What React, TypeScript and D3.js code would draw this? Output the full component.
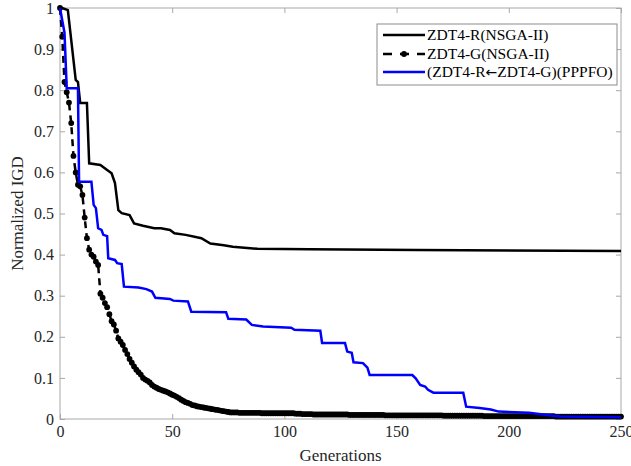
import { useEffect, useRef } from "react";
import * as d3 from "d3";

// ZDT4-R (NSGA-II): [generation, normalized IGD] break points
const solidR: [number, number][] = [
  [0, 1], [1, 1], [3.5, 0.995], [7, 0.825], [8, 0.82], [9, 0.769], [12, 0.769],
  [13, 0.622], [18, 0.618], [21, 0.606], [23, 0.598], [24.5, 0.574], [26, 0.508],
  [27.5, 0.501], [31, 0.496], [33, 0.476], [37, 0.47], [42, 0.464], [45, 0.464],
  [49, 0.46], [51, 0.452], [56, 0.448], [61, 0.442], [63, 0.44], [67, 0.427],
  [73, 0.423], [77, 0.419], [88, 0.414], [111, 0.413], [159, 0.411], [250, 0.409],
];

// ZDT4-G (NSGA-II): one value per generation 0..250
const dottedG: number[] = [
  1.000, 0.930, 0.820, 0.795, 0.770, 0.720, 0.640, 0.600, 0.570, 0.566,
  0.545, 0.490, 0.440, 0.412, 0.400, 0.395, 0.383, 0.375, 0.305, 0.295,
  0.282, 0.272, 0.255, 0.238, 0.230, 0.215, 0.196, 0.188, 0.180, 0.168,
  0.158, 0.146, 0.137, 0.128, 0.120, 0.114, 0.108, 0.100, 0.096, 0.093,
  0.089, 0.083, 0.079, 0.076, 0.073, 0.071, 0.069, 0.067, 0.065, 0.062,
  0.059, 0.057, 0.054, 0.051, 0.047, 0.044, 0.041, 0.039, 0.037, 0.034,
  0.033, 0.031, 0.030, 0.029, 0.028, 0.027, 0.026, 0.025, 0.024, 0.023,
  0.022, 0.021, 0.020, 0.019, 0.018, 0.017, 0.016, 0.016, 0.016, 0.016,
  0.015, 0.015, 0.015, 0.015, 0.015, 0.015, 0.015, 0.015, 0.015, 0.015,
  0.014, 0.014, 0.014, 0.014, 0.014, 0.014, 0.014, 0.014, 0.014, 0.014,
  0.014, 0.014, 0.014, 0.014, 0.014, 0.013, 0.013, 0.013, 0.012, 0.012,
  0.012, 0.012, 0.012, 0.011, 0.011, 0.011, 0.011, 0.011, 0.011, 0.011,
  0.011, 0.011, 0.011, 0.011, 0.011, 0.011, 0.011, 0.011, 0.011, 0.010,
  0.010, 0.010, 0.010, 0.010, 0.010, 0.010, 0.010, 0.010, 0.010, 0.010,
  0.010, 0.010, 0.010, 0.010, 0.010, 0.009, 0.009, 0.009, 0.009, 0.009,
  0.009, 0.009, 0.009, 0.009, 0.009, 0.009, 0.009, 0.009, 0.009, 0.009,
  0.009, 0.009, 0.009, 0.009, 0.009, 0.009, 0.009, 0.009, 0.009, 0.009,
  0.009, 0.008, 0.008, 0.008, 0.008, 0.008, 0.008, 0.008, 0.008, 0.008,
  0.008, 0.008, 0.008, 0.008, 0.008, 0.008, 0.008, 0.008, 0.008, 0.007,
  0.007, 0.007, 0.007, 0.007, 0.007, 0.007, 0.007, 0.007, 0.007, 0.007,
  0.007, 0.007, 0.007, 0.007, 0.007, 0.007, 0.007, 0.007, 0.007, 0.007,
  0.007, 0.007, 0.007, 0.007, 0.007, 0.007, 0.007, 0.007, 0.007, 0.007,
  0.007, 0.006, 0.006, 0.006, 0.006, 0.006, 0.006, 0.006, 0.006, 0.006,
  0.006, 0.006, 0.006, 0.006, 0.006, 0.006, 0.006, 0.006, 0.006, 0.006,
  0.006, 0.006, 0.006, 0.006, 0.006, 0.006, 0.006, 0.006, 0.006, 0.006,
  0.006,
];

// (ZDT4-R <- ZDT4-G) (PPPFO): break points
const bluePPPFO: [number, number][] = [
  [0, 1], [2, 0.94], [3, 0.805], [8, 0.805], [8.5, 0.577], [14, 0.577], [15, 0.521],
  [16, 0.513], [17, 0.464], [18.5, 0.46], [19.3, 0.448], [21, 0.445], [21.5, 0.391],
  [24.5, 0.387], [25.5, 0.379], [27.5, 0.377], [28.5, 0.322], [35, 0.32], [38.5, 0.316],
  [41, 0.31], [42.5, 0.295], [49, 0.292], [50.5, 0.288], [57, 0.286], [58.5, 0.261],
  [74, 0.26], [75, 0.244], [83, 0.242], [85.5, 0.229], [90.5, 0.225], [103, 0.222],
  [104.5, 0.217], [116, 0.215], [116.8, 0.185], [127, 0.185], [128, 0.164], [130, 0.161],
  [130.8, 0.138], [135, 0.136], [137, 0.125], [138, 0.107], [157, 0.107], [158.5, 0.099],
  [160.5, 0.083], [162.7, 0.079], [164, 0.071], [166.4, 0.064], [179.7, 0.064], [181, 0.03],
  [187, 0.027], [192, 0.023], [195.5, 0.018], [209, 0.015], [217, 0.01], [223, 0.006],
  [250, 0.004],
];

const xTicks = [0, 50, 100, 150, 200, 250];
const yTicks = [0, 0.1, 0.2, 0.3, 0.4, 0.5, 0.6, 0.7, 0.8, 0.9, 1];
// legend entries; the arrow of the third one is split out to give it a wider glyph
const legendLabels: string[][] = [["ZDT4-R(NSGA-II)"], ["ZDT4-G(NSGA-II)"], ["(ZDT4-R", "\u2190", "ZDT4-G)(PPPFO)"]];

const FONT = "'Liberation Serif', 'Times New Roman', serif";

export default function App() {
  const svgRef = useRef<SVGSVGElement>(null);

  useEffect(() => {
    const w = 631;
    const h = 466;
    const left = 60, right = 621, top = 8, bottom = 419;
    const svg = d3.select(svgRef.current);
    svg.selectAll("*").remove();
    svg.attr("width", w).attr("height", h);

    svg.append("rect").attr("width", w).attr("height", h).attr("fill", "#fff");

    const x = d3.scaleLinear().domain([0, 250]).range([left, right]);
    const y = d3.scaleLinear().domain([0, 1]).range([bottom, top]);
    const axisCol = "#a8a8a8";
    const fmt = (d: any) => String(+(+d).toFixed(1));

    const styleAxis = (g: any) => {
      g.select(".domain").remove();
      g.selectAll("line").attr("stroke", axisCol);
      g.selectAll("text").attr("fill", "#262626").style("font-family", FONT).style("font-size", "16px");
    };

    // plot box
    svg.append("rect")
      .attr("x", left).attr("y", top)
      .attr("width", right - left).attr("height", bottom - top)
      .attr("fill", "none").attr("stroke", axisCol).attr("stroke-width", 1);

    svg.append("g").attr("transform", `translate(0,${bottom})`)
      .call(d3.axisBottom(x).tickValues(xTicks).tickSizeInner(-5).tickSizeOuter(0).tickPadding(7).tickFormat(fmt))
      .call(styleAxis);
    svg.append("g").attr("transform", `translate(0,${top})`)
      .call(d3.axisTop(x).tickValues(xTicks).tickSizeInner(-5).tickSizeOuter(0).tickFormat(() => ""))
      .call(styleAxis);
    svg.append("g").attr("transform", `translate(${left},0)`)
      .call(d3.axisLeft(y).tickValues(yTicks).tickSizeInner(-5).tickSizeOuter(0).tickPadding(6).tickFormat(fmt))
      .call(styleAxis);
    svg.append("g").attr("transform", `translate(${right},0)`)
      .call(d3.axisRight(y).tickValues(yTicks).tickSizeInner(-5).tickSizeOuter(0).tickFormat(() => ""))
      .call(styleAxis);

    // axis titles
    svg.append("text")
      .attr("x", (left + right) / 2).attr("y", 461)
      .attr("text-anchor", "middle")
      .style("font-family", FONT).style("font-size", "17px").attr("fill", "#262626")
      .text("Generations");
    svg.append("text")
      .attr("transform", `translate(23,${(top + bottom) / 2}) rotate(-90)`)
      .attr("text-anchor", "middle")
      .style("font-family", FONT).style("font-size", "17px").attr("fill", "#262626")
      .text("Normalized IGD");

    const line = d3.line<[number, number]>().x((d) => x(d[0])).y((d) => y(d[1]));
    const dotted: [number, number][] = dottedG.map((v, i) => [i, v]);

    const plot = svg.append("g");
    plot.append("path").attr("d", line(solidR))
      .attr("fill", "none").attr("stroke", "#000").attr("stroke-width", 2.5);

    plot.append("path").attr("d", line(dotted))
      .attr("fill", "none").attr("stroke", "#000").attr("stroke-width", 2.5)
      .attr("stroke-dasharray", "7,5");
    plot.selectAll(".dot").data(dotted).join("circle")
      .attr("cx", (d) => x(d[0])).attr("cy", (d) => y(d[1]))
      .attr("r", 2.9).attr("fill", "#000");

    plot.append("path").attr("d", line(bluePPPFO))
      .attr("fill", "none").attr("stroke", "#0000ff").attr("stroke-width", 2.5);

    // legend
    const lg = svg.append("g");
    lg.append("rect").attr("x", 377).attr("y", 24).attr("width", 240).attr("height", 61)
      .attr("fill", "#fff").attr("stroke", "#8c8c8c").attr("stroke-width", 1);
    const rows = [35, 54, 72];
    legendLabels.forEach((parts, i) => {
      const yy = rows[i];
      const l = lg.append("line").attr("x1", 383).attr("x2", 425).attr("y1", yy).attr("y2", yy)
        .attr("stroke", i === 2 ? "#0000ff" : "#000").attr("stroke-width", 2.5);
      if (i === 1) {
        l.attr("stroke-dasharray", "9,8");
        lg.append("circle").attr("cx", 404).attr("cy", yy).attr("r", 2.9).attr("fill", "#000");
      }
      const t = lg.append("text").attr("x", 427).attr("y", yy).attr("dy", "0.35em")
        .style("font-family", FONT).style("font-size", "15.5px").attr("fill", "#000");
      parts.forEach((p) => {
        const s = t.append("tspan").text(p);
        if (p === "\u2190") s.style("font-family", "'DejaVu Sans', sans-serif").style("font-size", "14px");
      });
    });
  }, []);

  return (
    <svg ref={svgRef} style={{ position: "absolute", left: 0, top: 0, display: "block" }}></svg>
  );
}
